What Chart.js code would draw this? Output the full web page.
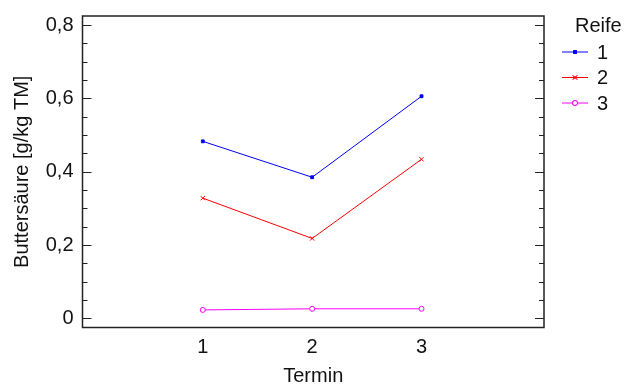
<!DOCTYPE html>
<html>
<head>
<meta charset="utf-8">
<script src="https://cdn.jsdelivr.net/npm/chart.js@4"></script>
<style>
  html, body { margin: 0; padding: 0; background: #fff; }
  #wrap { width: 624px; height: 385px; }
</style>
</head>
<body>
<div id="wrap"><canvas id="chart" width="624" height="385"></canvas></div>
<script>
// Termin on the x axis, one line per Reife
const termine = [1, 2, 3];
const reife = ['1', '2', '3'];
const reife1 = [0.483, 0.385, 0.606];
const reife2 = [0.328, 0.218, 0.434];
const reife3 = [0.023, 0.026, 0.026];
const yTicks = [0, 0.2, 0.4, 0.6, 0.8];
const yMinorStep = 0.05;

const colors = ['#0000ff', '#ff0000', '#ff00ff'];
const styles = ['rect', 'crossRot', 'circle'];
const radii = [2, 3, 2.5];
const values = [reife1, reife2, reife3];

const FONT = 'Liberation Sans, Arial, sans-serif';
const SIZE = 20;

const datasets = values.map((vals, i) => ({
  label: reife[i],
  data: termine.map((t, j) => ({ x: t, y: vals[j] })),
  borderColor: colors[i],
  backgroundColor: i === 2 ? '#ffffff' : colors[i],
  borderWidth: 1,
  pointStyle: styles[i],
  pointRadius: radii[i],
  pointBorderWidth: 1,
  tension: 0
}));

// frame, inward ticks and legend
const frame = {
  id: 'frame',
  afterDraw(chart) {
    const ctx = chart.ctx;
    const a = chart.chartArea;
    const y = chart.scales.y;
    ctx.save();
    ctx.strokeStyle = '#222';
    ctx.lineWidth = 1.5;
    ctx.strokeRect(a.left, a.top, a.right - a.left, a.bottom - a.top);
    ctx.lineWidth = 1.2;
    ctx.beginPath();
    for (let v = 0; v <= 0.8001; v += yMinorStep) {
      const py = Math.round(y.getPixelForValue(v)) + 0.5;
      const major = yTicks.some(t => Math.abs(t - v) < 1e-6);
      const len = major ? 9 : 5;
      ctx.moveTo(a.left, py);
      ctx.lineTo(a.left + len, py);
      ctx.moveTo(a.right, py);
      ctx.lineTo(a.right - len, py);
    }
    ctx.stroke();

    // legend
    ctx.fillStyle = '#111';
    ctx.font = SIZE + 'px ' + FONT;
    ctx.textBaseline = 'middle';
    ctx.textAlign = 'left';
    ctx.fillText('Reife', 575, 26);
    chart.data.datasets.forEach((ds, i) => {
      const ly = 52 + i * 25.5;
      ctx.strokeStyle = ds.borderColor;
      ctx.lineWidth = 1;
      ctx.beginPath();
      ctx.moveTo(562, ly);
      ctx.lineTo(588, ly);
      ctx.stroke();
      Chart.helpers.drawPoint(ctx, {
        pointStyle: ds.pointStyle,
        radius: ds.pointRadius,
        borderWidth: 1,
        rotation: 0
      }, 575, ly);
      ctx.fillStyle = ds.backgroundColor;
      ctx.strokeStyle = ds.borderColor;
      ctx.fill();
      ctx.stroke();
      ctx.fillStyle = '#111';
      ctx.fillText(ds.label, 597, ly + 1);
    });
    ctx.restore();
  }
};

new Chart(document.getElementById('chart'), {
  type: 'line',
  data: { datasets },
  options: {
    responsive: false,
    animation: false,
    layout: { padding: { left: 0, top: 16, right: 80, bottom: 0 } },
    plugins: { legend: { display: false }, tooltip: { enabled: false } },
    scales: {
      x: {
        type: 'linear',
        min: -0.1,
        max: 4.12,
        afterBuildTicks: s => { s.ticks = termine.map(v => ({ value: v })); },
        afterFit: s => { s.height = 57.5; s.paddingLeft = 0; s.paddingRight = 0; },
        grid: { display: false, drawTicks: false },
        border: { display: false },
        ticks: { color: '#111', font: { family: FONT, size: SIZE }, padding: 7.5 },
        title: { display: true, text: 'Termin', color: '#111', font: { family: FONT, size: SIZE, lineHeight: 1 }, padding: { top: 4, bottom: -1 } }
      },
      y: {
        min: -0.025,
        max: 0.825,
        afterBuildTicks: s => { s.ticks = yTicks.map(v => ({ value: v })); },
        afterFit: s => { s.width = 82.5; s.paddingTop = 0; s.paddingBottom = 0; },
        grid: { display: false, drawTicks: false },
        border: { display: false },
        ticks: {
          color: '#111',
          font: { family: FONT, size: SIZE },
          padding: 9,
          callback: v => String(v).replace('.', ',')
        },
        title: { display: true, text: 'Buttersäure [g/kg TM]', color: '#111', font: { family: FONT, size: SIZE, lineHeight: 1 }, padding: { top: 12, bottom: 0 } }
      }
    }
  },
  plugins: [frame]
});
</script>
</body>
</html>
